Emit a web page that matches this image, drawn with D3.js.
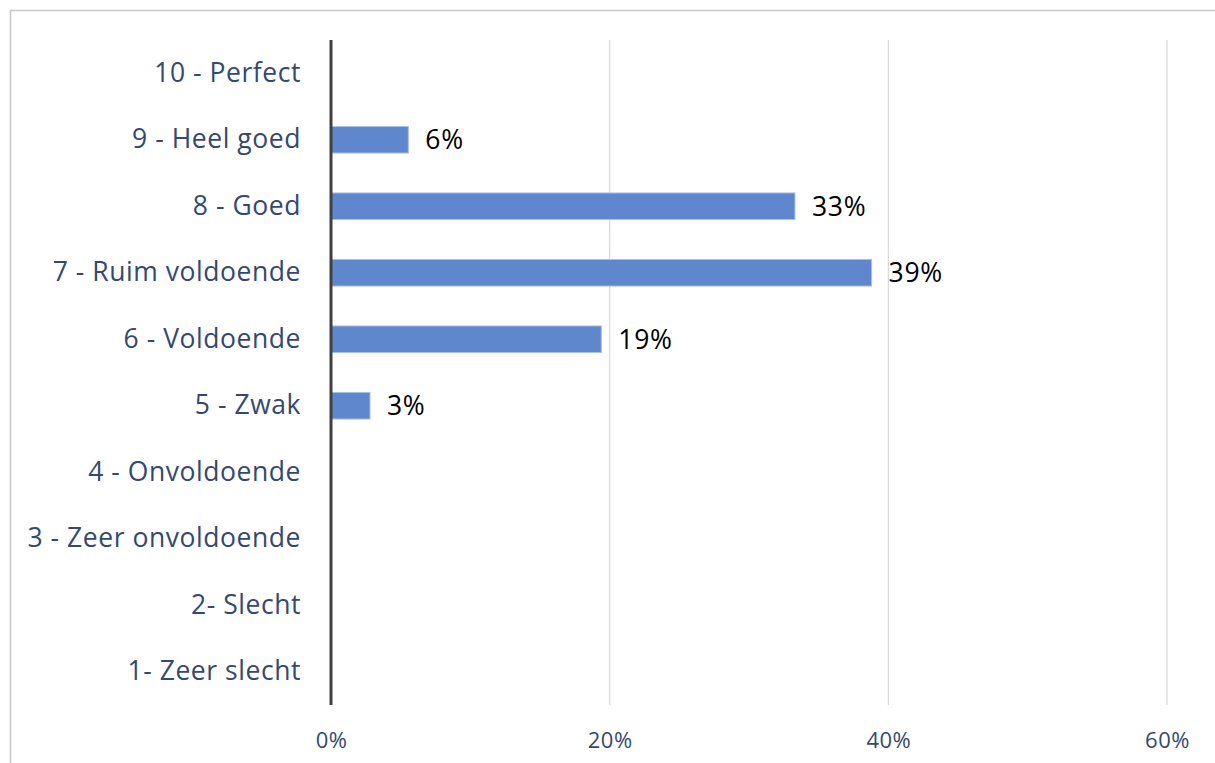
<!DOCTYPE html>
<html>
<head>
<meta charset="utf-8">
<script src="https://cdn.jsdelivr.net/npm/d3@7"></script>
<style>
  html, body { margin: 0; padding: 0; background: #fff; }
  svg { display: block; }
</style>
</head>
<body>
<svg id="chart" width="1215" height="763"></svg>
<script>
// Rating categories, top to bottom
const categories = [
  "10 - Perfect",
  "9 - Heel goed",
  "8 - Goed",
  "7 - Ruim voldoende",
  "6 - Voldoende",
  "5 - Zwak",
  "4 - Onvoldoende",
  "3 - Zeer onvoldoende",
  "2- Slecht",
  "1- Zeer slecht"
];
// Share of respondents per category (null = no responses)
const shares = [null, 0.0555, 0.333, 0.388, 0.194, 0.028, null, null, null, null];
// X axis ticks
const xTicks = [0, 0.2, 0.4, 0.6];

const svg = d3.select("#chart");
const W = 1215, H = 763;
const margin = { left: 331, right: 48, top: 40, bottom: 58 };
const fontFamily = "'Open Sans', 'Noto Sans', sans-serif";
const labelColor = "#34496f";

// Chart area frame
svg.append("rect")
  .attr("x", 10.5).attr("y", 10.5)
  .attr("width", W + 20).attr("height", H + 20)
  .attr("fill", "#fff")
  .attr("stroke", "#c8c8c8").attr("stroke-width", 1.5);

const x = d3.scaleLinear().domain([0, 0.6]).range([margin.left, W - margin.right]);
const y = d3.scaleBand().domain(categories).range([margin.top, H - margin.bottom]).paddingInner(0.6).paddingOuter(0.3);

// Vertical gridlines
svg.append("g")
  .selectAll("line")
  .data(xTicks.filter(t => t > 0))
  .join("line")
  .attr("x1", d => x(d)).attr("x2", d => x(d))
  .attr("y1", margin.top).attr("y2", H - margin.bottom)
  .attr("stroke", "#d9d9d9").attr("stroke-width", 1.2);

// X tick labels
svg.append("g")
  .attr("transform", `translate(0,${H - margin.bottom})`)
  .call(d3.axisBottom(x).tickValues(xTicks).tickFormat(d3.format(".0%")).tickSize(0).tickPadding(27))
  .call(g => g.select(".domain").remove())
  .call(g => g.selectAll("text")
    .attr("font-family", fontFamily)
    .attr("font-size", 22)
    .attr("letter-spacing", 0.5)
    .attr("fill", labelColor));

// Bars
const bars = categories.map((c, i) => ({ cat: c, v: shares[i] })).filter(d => d.v != null);
svg.append("g")
  .selectAll("rect")
  .data(bars)
  .join("rect")
  .attr("x", x(0))
  .attr("y", d => y(d.cat))
  .attr("width", d => x(d.v) - x(0))
  .attr("height", y.bandwidth())
  .attr("fill", "#5f87cd")
  .attr("stroke", "#a9c0e8").attr("stroke-width", 1);

// Value labels
svg.append("g")
  .selectAll("text")
  .data(bars)
  .join("text")
  .attr("x", d => x(d.v) + 17)
  .attr("y", d => y(d.cat) + y.bandwidth() / 2)
  .attr("dy", "0.36em")
  .attr("font-family", fontFamily)
  .attr("font-size", 26.5)
  .attr("letter-spacing", 0.7)
  .attr("fill", "#000")
  .text(d => d3.format(".0%")(d.v));

// Y axis (category labels and axis line)
svg.append("g")
  .attr("transform", `translate(${margin.left},0)`)
  .call(d3.axisLeft(y).tickSize(0).tickPadding(30))
  .call(g => g.select(".domain").remove())
  .call(g => g.selectAll("text")
    .attr("font-family", fontFamily)
    .attr("font-size", 26.5)
    .attr("letter-spacing", 0.55)
    .attr("fill", labelColor));

svg.append("line")
  .attr("x1", x(0)).attr("x2", x(0))
  .attr("y1", margin.top).attr("y2", H - margin.bottom)
  .attr("stroke", "#404040").attr("stroke-width", 3);
</script>
</body>
</html>
